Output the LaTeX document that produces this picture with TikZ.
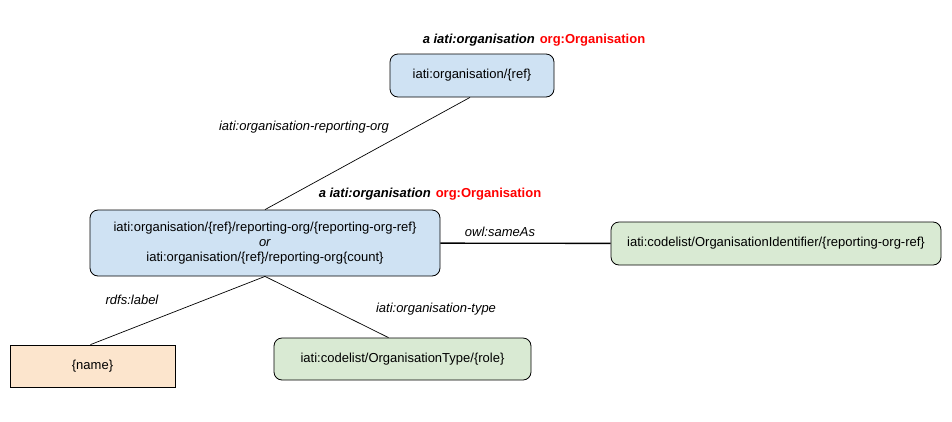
\documentclass[tikz,border=0pt]{standalone}
\usepackage{fontspec}
\setmainfont{Liberation Sans}
\usepackage{xcolor}
\usetikzlibrary{positioning, calc}

\definecolor{resblue}{HTML}{CFE2F3}
\definecolor{resgreen}{HTML}{D9EAD3}
\definecolor{resorange}{HTML}{FCE5CD}

\begin{document}
\begin{tikzpicture}[x=1pt, y=-1pt,
  res/.style={draw, rectangle, rounded corners=8pt, line width=0.8pt, align=center, font=\fontsize{13}{15}\selectfont, fill=#1, inner sep=0pt},
  lit/.style={draw, rectangle, line width=0.8pt, align=center, font=\fontsize{13}{15}\selectfont, fill=#1, inner sep=0pt},
  prop/.style={font=\fontsize{13}{15}\selectfont\itshape},
  kind/.style={font=\fontsize{13}{15}\selectfont\bfseries}
]
\useasboundingbox (0,0) rectangle (952,421);

% Resources
\node[res=resblue, minimum width=164pt, minimum height=43pt] (org) at (472, 75.5) {iati:organisation/\{ref\}};
\node[res=resblue, minimum width=350pt, minimum height=66pt] (reporg) at (265, 243) {iati:organisation/\{ref\}/reporting-org/\{reporting-org-ref\}\\ \textit{or}\\ iati:organisation/\{ref\}/reporting-org\{count\}};
\node[res=resgreen, minimum width=330pt, minimum height=43pt] (orgid) at (776, 243.5) {iati:codelist/OrganisationIdentifier/\{reporting-org-ref\}};
\node[lit=resorange, minimum width=165pt, minimum height=42pt] (name) at (92.5, 366) {\{name\}};
\node[res=resgreen, minimum width=257pt, minimum height=42pt] (orgtype) at (402.5, 359) {iati:codelist/OrganisationType/\{role\}};

% Types
\node[kind] (orgkind) at (534, 40) {\itshape a iati:organisation\hspace{5pt}\color{red}\upshape org:Organisation};
\node[kind] (reporgkind) at (430, 194) {\itshape a iati:organisation\hspace{5pt}\color{red}\upshape org:Organisation};

% Relations
\draw[line width=0.7pt] ([xshift=-2pt]org.south) -- (reporg.north);
\draw[line width=1.4pt] (reporg) -- (orgid);
\draw[line width=0.7pt] (reporg.south) -- ([xshift=-2pt]name.north);
\draw[line width=0.7pt] (reporg.south) -- ([xshift=-14pt]orgtype.north);

% Property labels
\node[prop] (reporglabel) at (304, 127) {iati:organisation-reporting-org};
\node[prop] (sameaslabel) at (500, 232) {owl:sameAs};
\node[prop] (namelabel) at (132, 300) {rdfs:label};
\node[prop] (typelabel) at (436, 309) {iati:organisation-type};

\end{tikzpicture}
\end{document}
